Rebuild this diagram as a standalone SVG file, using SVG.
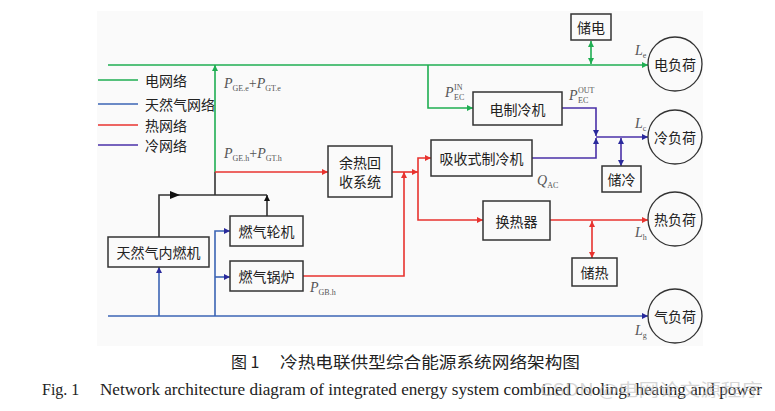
<svg xmlns="http://www.w3.org/2000/svg" width="775" height="411" viewBox="0 0 775 411">
<style>
.box{fill:#fafafa;stroke:#333;stroke-width:1.5}
.ld{fill:#fafafa;stroke:#333;stroke-width:1.3}
.t{font-family:"Noto Sans CJK SC","Noto Sans CJK JP",sans-serif;font-size:14px;fill:#222;text-anchor:middle;dominant-baseline:central}
.lg{font-family:"Noto Sans CJK SC",sans-serif;font-size:14px;fill:#222;dominant-baseline:central}
.m{font-family:"Liberation Serif",serif;font-style:italic;font-size:14px;fill:#555}
.s{font-family:"Liberation Serif",serif;font-style:normal;font-size:8px;fill:#555}
.g{fill:none;stroke:#1fae52;stroke-width:1.6}
.b{fill:none;stroke:#3b64b4;stroke-width:1.6}
.r{fill:none;stroke:#e8332f;stroke-width:1.6}
.p{fill:none;stroke:#4a30a8;stroke-width:1.6}
.k{fill:none;stroke:#333;stroke-width:1.6}
</style>
<defs>
<marker id="ag" viewBox="0 0 10 10" refX="10" refY="5" markerWidth="6" markerHeight="6" markerUnits="userSpaceOnUse" orient="auto-start-reverse"><path d="M0,0L10,5L0,10z" fill="#1fae52"/></marker>
<marker id="ab" viewBox="0 0 10 10" refX="10" refY="5" markerWidth="6" markerHeight="6" markerUnits="userSpaceOnUse" orient="auto-start-reverse"><path d="M0,0L10,5L0,10z" fill="#2a2a9c"/></marker>
<marker id="ar" viewBox="0 0 10 10" refX="10" refY="5" markerWidth="6" markerHeight="6" markerUnits="userSpaceOnUse" orient="auto-start-reverse"><path d="M0,0L10,5L0,10z" fill="#e8332f"/></marker>
<marker id="ap" viewBox="0 0 10 10" refX="10" refY="5" markerWidth="6" markerHeight="6" markerUnits="userSpaceOnUse" orient="auto-start-reverse"><path d="M0,0L10,5L0,10z" fill="#2a2a9c"/></marker>
<marker id="ak" viewBox="0 0 10 10" refX="10" refY="5" markerWidth="6" markerHeight="6" markerUnits="userSpaceOnUse" orient="auto-start-reverse"><path d="M0,0L10,5L0,10z" fill="#111"/></marker>
</defs>
<rect x="0" y="0" width="775" height="411" fill="#fff"/>
<rect x="97" y="11" width="606" height="335" fill="#fafafa"/>

<g id="legend">
<line x1="98" y1="80" x2="138" y2="80" stroke="#1fae52" stroke-width="1.6"/>
<text class="lg" x="145" y="80">电网络</text>
<line x1="98" y1="104" x2="138" y2="104" stroke="#3b64b4" stroke-width="1.6"/>
<text class="lg" x="145" y="104">天然气网络</text>
<line x1="98" y1="125" x2="138" y2="125" stroke="#e8332f" stroke-width="1.6"/>
<text class="lg" x="145" y="125">热网络</text>
<line x1="98" y1="145" x2="138" y2="145" stroke="#4a30a8" stroke-width="1.6"/>
<text class="lg" x="145" y="145">冷网络</text>
</g>

<g id="connectors">
<!-- electric -->
<path class="g" d="M108,65H648" marker-end="url(#ag)"/>
<path class="g" d="M215,172V65" marker-end="url(#ag)"/>
<path class="g" d="M428,65V108H473" marker-end="url(#ag)"/>
<path class="g" d="M591,41V64" marker-start="url(#ag)" marker-end="url(#ag)"/>
<!-- black -->
<path class="k" d="M159,237V195H267"/>
<path class="k" d="M215,195V172"/>
<path class="k" d="M267,216V195" marker-end="url(#ak)"/>
<path d="M170,191L180,195L170,199z" fill="#111"/>
<!-- gas -->
<path class="b" d="M108,316H648" marker-end="url(#ab)"/>
<path class="b" d="M159,316V267" marker-end="url(#ab)"/>
<path class="b" d="M215,316V231H230" marker-end="url(#ab)"/>
<path class="b" d="M215,277H230" marker-end="url(#ab)"/>
<!-- heat -->
<path class="r" d="M215,172H328" marker-end="url(#ar)"/>
<path class="r" d="M392,172H418" marker-end="url(#ar)"/>
<path class="r" d="M303,276H404V172" marker-end="url(#ar)"/>
<path class="r" d="M418,219V158H431" marker-end="url(#ar)"/>
<path class="r" d="M418,219V220H483" marker-end="url(#ar)"/>
<path class="r" d="M550,220H648" marker-end="url(#ar)"/>
<path class="r" d="M592,221V258" marker-start="url(#ar)" marker-end="url(#ar)"/>
<!-- cooling -->
<path class="p" d="M562,108H596V136" marker-end="url(#ap)"/>
<path class="p" d="M532,158H596V138" marker-end="url(#ap)"/>
<path class="p" d="M596,137H648" marker-end="url(#ap)"/>
<path class="p" d="M621,138V166" marker-start="url(#ap)" marker-end="url(#ap)"/>
</g>

<g id="n_storage_e"><rect class="box" x="571" y="14" width="40" height="26"/><text class="t" x="591" y="27">储电</text></g>
<g id="n_load_e"><circle class="ld" cx="675" cy="64" r="27"/><text class="t" x="675" y="64">电负荷</text></g>
<g id="n_load_c"><circle class="ld" cx="675" cy="137" r="27"/><text class="t" x="675" y="137">冷负荷</text></g>
<g id="n_load_h"><circle class="ld" cx="675" cy="219" r="27"/><text class="t" x="675" y="219">热负荷</text></g>
<g id="n_load_g"><circle class="ld" cx="675" cy="316" r="27"/><text class="t" x="675" y="316">气负荷</text></g>
<g id="n_ec"><rect class="box" x="473" y="92" width="89" height="33"/><text class="t" x="517.5" y="108.5">电制冷机</text></g>
<g id="n_ac"><rect class="box" x="431" y="140" width="101" height="36"/><text class="t" x="481.5" y="158">吸收式制冷机</text></g>
<g id="n_storage_c"><rect class="box" x="602" y="166" width="39" height="26"/><text class="t" x="621.5" y="179">储冷</text></g>
<g id="n_whr"><rect class="box" x="328" y="146" width="64" height="51"/><text class="t" x="360" y="162">余热回</text><text class="t" x="360" y="181">收系统</text></g>
<g id="n_hx"><rect class="box" x="483" y="201" width="67" height="39"/><text class="t" x="516.5" y="220.5">换热器</text></g>
<g id="n_storage_h"><rect class="box" x="572" y="258" width="45" height="28"/><text class="t" x="594.5" y="272">储热</text></g>
<g id="n_ice"><rect class="box" x="108" y="237" width="101" height="30"/><text class="t" x="158.5" y="252">天然气内燃机</text></g>
<g id="n_gt"><rect class="box" x="230" y="216" width="73" height="30"/><text class="t" x="266.5" y="231">燃气轮机</text></g>
<g id="n_gb"><rect class="box" x="230" y="261" width="73" height="30"/><text class="t" x="266.5" y="276">燃气锅炉</text></g>

<g id="labels">
<text class="m" x="224" y="88">P<tspan class="s" dy="3">GE.e</tspan><tspan dy="-3" style="font-style:normal">+</tspan>P<tspan class="s" dy="3">GT.e</tspan></text>
<text class="m" x="224" y="158">P<tspan class="s" dy="3">GE.h</tspan><tspan dy="-3" style="font-style:normal">+</tspan>P<tspan class="s" dy="3">GT.h</tspan></text>
<text class="m" x="445" y="97">P</text><text class="s" x="454" y="90">IN</text><text class="s" x="454" y="100">EC</text>
<text class="m" x="569" y="100">P</text><text class="s" x="578" y="93">OUT</text><text class="s" x="578" y="103">EC</text>
<text class="m" x="635" y="55">L<tspan class="s" dy="3">e</tspan></text>
<text class="m" x="635" y="128">L<tspan class="s" dy="3">c</tspan></text>
<text class="m" x="537" y="185">Q<tspan class="s" dy="3">AC</tspan></text>
<text class="m" x="635" y="237">L<tspan class="s" dy="3">h</tspan></text>
<text class="m" x="635" y="335">L<tspan class="s" dy="3">g</tspan></text>
<text class="m" x="310" y="292">P<tspan class="s" dy="3">GB.h</tspan></text>
</g>

<g id="caption">
<text x="231" y="368" font-family="Noto Sans CJK SC, sans-serif" font-size="16" fill="#222">图 1</text>
<text x="280" y="368" font-family="Noto Sans CJK SC, sans-serif" font-size="16" fill="#222" textLength="300" lengthAdjust="spacingAndGlyphs">冷热电联供型综合能源系统网络架构图</text>
<text x="42" y="395" font-family="Liberation Serif, serif" font-size="16" fill="#222">Fig. 1</text>
<text x="100" y="395" font-family="Liberation Serif, serif" font-size="16" fill="#222" textLength="662" lengthAdjust="spacingAndGlyphs">Network architecture diagram of integrated energy system combined cooling, heating and power</text>
<text x="540" y="396" font-family="Noto Sans CJK SC, sans-serif" font-size="17" fill="#bbb" fill-opacity="0.6" textLength="222" lengthAdjust="spacingAndGlyphs">CSDN @电网论文源程序</text>
</g>
</svg>
